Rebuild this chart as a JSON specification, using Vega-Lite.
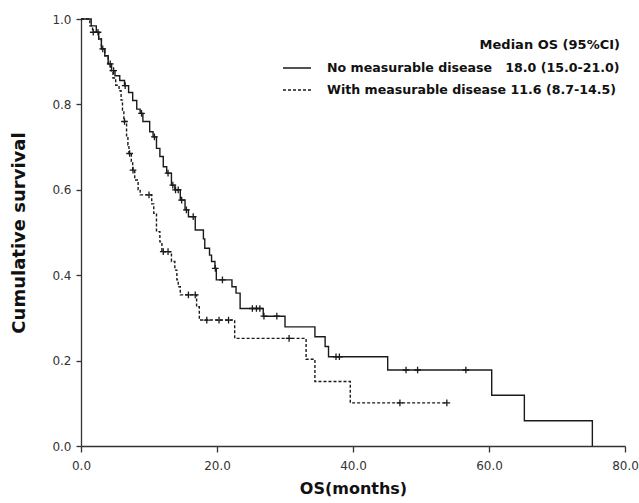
{
  "$schema": "https://vega.github.io/schema/vega-lite/v6.json",
  "width": 544,
  "height": 427,
  "autosize": "none",
  "padding": {"left": 81, "top": 19, "right": 14, "bottom": 57},
  "background": "white",
  "config": {
    "view": {"stroke": null},
    "font": "DejaVu Sans",
    "axis": {
      "grid": false,
      "labelFlush": false,
      "domainColor": "#333333",
      "domainWidth": 1.3,
      "tickColor": "#333333",
      "tickWidth": 1.3,
      "tickSize": 5,
      "labelFont": "DejaVu Sans",
      "labelFontSize": 12,
      "labelColor": "#333333",
      "titleFont": "DejaVu Sans",
      "titleFontSize": 16,
      "titleFontWeight": "bold",
      "titleColor": "#111111"
    }
  },
  "datasets": {
    "curves": [
      {"g": "No", "t": 0, "s": 1.0}, {"g": "No", "t": 1.5, "s": 0.984}, {"g": "No", "t": 2.25, "s": 0.969},
      {"g": "No", "t": 2.6, "s": 0.953}, {"g": "No", "t": 3.0, "s": 0.930}, {"g": "No", "t": 3.5, "s": 0.914},
      {"g": "No", "t": 4.0, "s": 0.895}, {"g": "No", "t": 4.5, "s": 0.879}, {"g": "No", "t": 5.0, "s": 0.867},
      {"g": "No", "t": 5.7, "s": 0.856}, {"g": "No", "t": 6.4, "s": 0.844}, {"g": "No", "t": 7.0, "s": 0.828},
      {"g": "No", "t": 7.6, "s": 0.809}, {"g": "No", "t": 8.2, "s": 0.789}, {"g": "No", "t": 8.7, "s": 0.779},
      {"g": "No", "t": 9.1, "s": 0.760}, {"g": "No", "t": 10.1, "s": 0.736}, {"g": "No", "t": 10.6, "s": 0.724},
      {"g": "No", "t": 11.1, "s": 0.697}, {"g": "No", "t": 11.6, "s": 0.678}, {"g": "No", "t": 12.1, "s": 0.654},
      {"g": "No", "t": 12.6, "s": 0.639}, {"g": "No", "t": 13.3, "s": 0.611}, {"g": "No", "t": 13.8, "s": 0.600},
      {"g": "No", "t": 14.6, "s": 0.576}, {"g": "No", "t": 15.3, "s": 0.553}, {"g": "No", "t": 15.8, "s": 0.537},
      {"g": "No", "t": 16.8, "s": 0.506}, {"g": "No", "t": 18.0, "s": 0.485}, {"g": "No", "t": 18.2, "s": 0.463},
      {"g": "No", "t": 18.9, "s": 0.447}, {"g": "No", "t": 19.2, "s": 0.432}, {"g": "No", "t": 19.7, "s": 0.416},
      {"g": "No", "t": 19.9, "s": 0.389}, {"g": "No", "t": 22.2, "s": 0.373}, {"g": "No", "t": 22.8, "s": 0.358},
      {"g": "No", "t": 23.4, "s": 0.322}, {"g": "No", "t": 26.8, "s": 0.304}, {"g": "No", "t": 30.0, "s": 0.279},
      {"g": "No", "t": 34.4, "s": 0.256}, {"g": "No", "t": 35.9, "s": 0.233}, {"g": "No", "t": 36.4, "s": 0.209},
      {"g": "No", "t": 45.1, "s": 0.178}, {"g": "No", "t": 60.4, "s": 0.119}, {"g": "No", "t": 65.2, "s": 0.059},
      {"g": "No", "t": 75.2, "s": 0.0},
      {"g": "With", "t": 0, "s": 1.0}, {"g": "With", "t": 1.3, "s": 0.984}, {"g": "With", "t": 1.7, "s": 0.969},
      {"g": "With", "t": 2.6, "s": 0.953}, {"g": "With", "t": 3.0, "s": 0.930}, {"g": "With", "t": 3.5, "s": 0.914},
      {"g": "With", "t": 4.0, "s": 0.895}, {"g": "With", "t": 4.3, "s": 0.879}, {"g": "With", "t": 4.7, "s": 0.862},
      {"g": "With", "t": 5.1, "s": 0.845}, {"g": "With", "t": 5.6, "s": 0.832}, {"g": "With", "t": 5.9, "s": 0.810},
      {"g": "With", "t": 6.1, "s": 0.787}, {"g": "With", "t": 6.3, "s": 0.760}, {"g": "With", "t": 6.7, "s": 0.724},
      {"g": "With", "t": 6.9, "s": 0.705}, {"g": "With", "t": 7.05, "s": 0.685}, {"g": "With", "t": 7.4, "s": 0.666},
      {"g": "With", "t": 7.6, "s": 0.646}, {"g": "With", "t": 7.9, "s": 0.623}, {"g": "With", "t": 8.4, "s": 0.600},
      {"g": "With", "t": 8.7, "s": 0.588}, {"g": "With", "t": 10.4, "s": 0.567}, {"g": "With", "t": 10.7, "s": 0.545},
      {"g": "With", "t": 11.1, "s": 0.502}, {"g": "With", "t": 11.6, "s": 0.478}, {"g": "With", "t": 11.9, "s": 0.455},
      {"g": "With", "t": 13.3, "s": 0.432}, {"g": "With", "t": 13.8, "s": 0.412}, {"g": "With", "t": 14.1, "s": 0.389},
      {"g": "With", "t": 14.3, "s": 0.373}, {"g": "With", "t": 14.6, "s": 0.354}, {"g": "With", "t": 17.0, "s": 0.326},
      {"g": "With", "t": 17.4, "s": 0.295}, {"g": "With", "t": 22.6, "s": 0.252}, {"g": "With", "t": 33.1, "s": 0.203},
      {"g": "With", "t": 34.4, "s": 0.151}, {"g": "With", "t": 39.6, "s": 0.101}, {"g": "With", "t": 53.8, "s": 0.101}
    ],
    "censors": [
      {"g": "No", "t": 2.5, "s": 0.969}, {"g": "No", "t": 3.2, "s": 0.930}, {"g": "No", "t": 4.3, "s": 0.895},
      {"g": "No", "t": 4.8, "s": 0.879}, {"g": "No", "t": 6.5, "s": 0.844}, {"g": "No", "t": 8.9, "s": 0.779},
      {"g": "No", "t": 10.8, "s": 0.724}, {"g": "No", "t": 12.8, "s": 0.639}, {"g": "No", "t": 13.5, "s": 0.611},
      {"g": "No", "t": 13.9, "s": 0.600}, {"g": "No", "t": 14.3, "s": 0.600}, {"g": "No", "t": 14.8, "s": 0.576},
      {"g": "No", "t": 15.5, "s": 0.553}, {"g": "No", "t": 16.5, "s": 0.537}, {"g": "No", "t": 19.75, "s": 0.416},
      {"g": "No", "t": 20.8, "s": 0.389}, {"g": "No", "t": 25.2, "s": 0.322}, {"g": "No", "t": 25.8, "s": 0.322},
      {"g": "No", "t": 26.3, "s": 0.322}, {"g": "No", "t": 26.9, "s": 0.304}, {"g": "No", "t": 28.8, "s": 0.304},
      {"g": "No", "t": 37.5, "s": 0.209}, {"g": "No", "t": 38.0, "s": 0.209}, {"g": "No", "t": 47.8, "s": 0.178},
      {"g": "No", "t": 49.5, "s": 0.178}, {"g": "No", "t": 56.6, "s": 0.178},
      {"g": "With", "t": 1.8, "s": 0.969}, {"g": "With", "t": 6.4, "s": 0.760}, {"g": "With", "t": 7.15, "s": 0.685},
      {"g": "With", "t": 7.65, "s": 0.646}, {"g": "With", "t": 10.0, "s": 0.588}, {"g": "With", "t": 12.1, "s": 0.455},
      {"g": "With", "t": 12.8, "s": 0.455}, {"g": "With", "t": 15.8, "s": 0.354}, {"g": "With", "t": 16.8, "s": 0.354},
      {"g": "With", "t": 18.5, "s": 0.295}, {"g": "With", "t": 20.3, "s": 0.295}, {"g": "With", "t": 21.7, "s": 0.295},
      {"g": "With", "t": 30.6, "s": 0.252}, {"g": "With", "t": 46.9, "s": 0.101}, {"g": "With", "t": 53.8, "s": 0.101}
    ]
  },
  "layer": [
    {
      "data": {"name": "curves"},
      "mark": {"type": "line", "interpolate": "step-after", "strokeWidth": 1.4, "color": "#1a1a1a"},
      "encoding": {
        "x": {
          "field": "t", "type": "quantitative",
          "scale": {"domain": [0, 80], "nice": false},
          "axis": {"values": [0, 20, 40, 60, 80], "format": ".1f", "title": "OS(months)", "tickSize": 6, "labelPadding": 8, "titlePadding": 9}
        },
        "y": {
          "field": "s", "type": "quantitative",
          "scale": {"domain": [0, 1], "nice": false},
          "axis": {"values": [0, 0.2, 0.4, 0.6, 0.8, 1.0], "format": ".1f", "title": "Cumulative survival", "titleFontSize": 18, "labelPadding": 5, "titlePadding": 23}
        },
        "strokeDash": {
          "field": "g", "type": "nominal",
          "scale": {"domain": ["No", "With"], "range": [[1, 0], [3, 2]]},
          "legend": {
            "title": "Median OS (95%CI)",
            "orient": "none",
            "legendX": 208,
            "legendY": 20,
            "padding": 0,
            "titleAnchor": "end",
            "titleFont": "DejaVu Sans",
            "titleFontSize": 13,
            "titleFontWeight": "bold",
            "titleColor": "#111111",
            "titlePadding": 8,
            "labelFont": "DejaVu Sans",
            "labelFontSize": 12.6,
            "labelFontWeight": "bold",
            "labelColor": "#111111",
            "labelLimit": 500,
            "labelOffset": 22,
            "symbolType": "M-2,0H2",
            "symbolSize": 196,
            "symbolStrokeWidth": 1.4,
            "symbolStrokeColor": "#1a1a1a",
            "rowPadding": 7,
            "labelExpr": "datum.label == 'No' ? 'No measurable disease\u00a0\u00a0\u00a018.0 (15.0-21.0)' : 'With measurable disease 11.6 (8.7-14.5)'"
          }
        }
      }
    },
    {
      "data": {"name": "censors"},
      "mark": {"type": "point", "shape": "M-1,0L1,0M0,-1L0,1", "filled": false, "size": 45, "strokeWidth": 1.3, "color": "#1a1a1a", "opacity": 1},
      "encoding": {
        "x": {"field": "t", "type": "quantitative"},
        "y": {"field": "s", "type": "quantitative"}
      }
    }
  ]
}
